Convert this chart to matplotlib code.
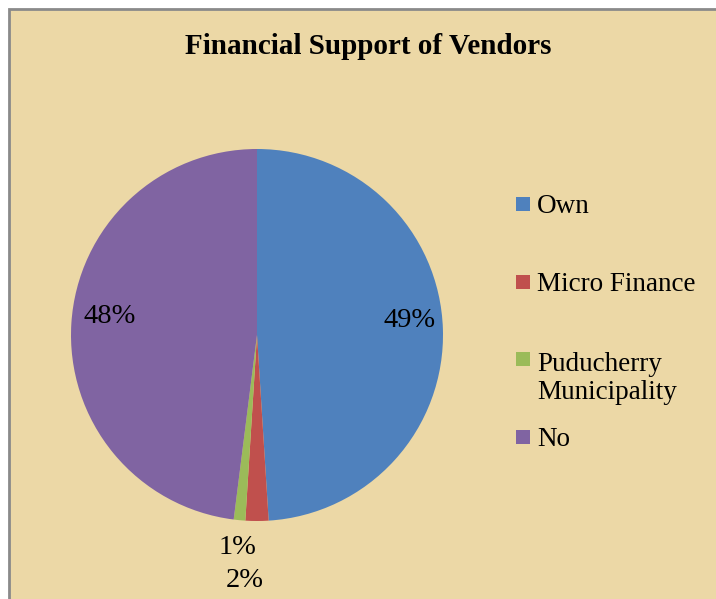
import numpy as np
import matplotlib
matplotlib.use('Agg')
import matplotlib.pyplot as plt
from matplotlib.patches import Rectangle

# Data
categories = ['Own', 'Micro Finance', 'Puducherry\nMunicipality', 'No']
values = [49, 2, 1, 48]
colors = ['#4F81BD', '#C0504D', '#9BBB59', '#8064A2']
label_dist = [0.82, 1.31, 1.15, 0.82]
# small pixel nudges of the data labels (x right, y down)
label_nudge = [(0, -10), (-12, 2), (1, 0), (5, -9)]

W, H = 716, 599
fig = plt.figure(figsize=(W / 100, H / 100), dpi=100)
fig.patch.set_facecolor('white')

# chart area frame (papyrus-like background)
frame = Rectangle((9 / W, -0.05), 1.1, 1 - 9 / H + 0.05, transform=fig.transFigure,
                  facecolor='#ECD8A6', edgecolor='#8A8A8A', linewidth=2, zorder=-5)
fig.patches.append(frame)

fig.text(368 / W, 1 - 47 / H, 'Financial Support of Vendors', ha='center', va='center',
         fontsize=21, fontweight='bold', family='Liberation Serif')

# pie
cx, cy, r = 257, 335, 186
ax = fig.add_axes([(cx - r) / W, (H - cy - r) / H, 2 * r / W, 2 * r / H])
ax.patch.set_alpha(0)
wedges, _ = ax.pie(values, colors=colors, startangle=90, counterclock=False, radius=1,
                   wedgeprops=dict(linewidth=0))
ax.set_xlim(-1, 1)
ax.set_ylim(-1, 1)
ax.set_aspect('equal')
ax.axis('off')

for w, v, d, (nx, ny) in zip(wedges, values, label_dist, label_nudge):
    th = np.deg2rad((w.theta1 + w.theta2) / 2)
    ax.text(d * np.cos(th) + nx / r, d * np.sin(th) - ny / r, f'{v}%', ha='center',
            va='center', fontsize=20.5, family='Liberation Serif', clip_on=False)

# legend
y0, step, line_h = 204, 77.5, 31
for i, (c, lab) in enumerate(zip(colors, categories)):
    ym = y0 + i * step
    fig.patches.append(Rectangle((516 / W, 1 - (ym + 7) / H), 14 / W, 14 / H,
                                 transform=fig.transFigure, facecolor=c, edgecolor='none'))
    extra = (lab.count('\n')) * line_h
    fig.text(537 / W, 1 - (ym + 9 + extra) / H, lab, ha='left', va='baseline', fontsize=19.5,
             family='Liberation Serif', linespacing=1.15)

fig.savefig('out.png', dpi=100)
